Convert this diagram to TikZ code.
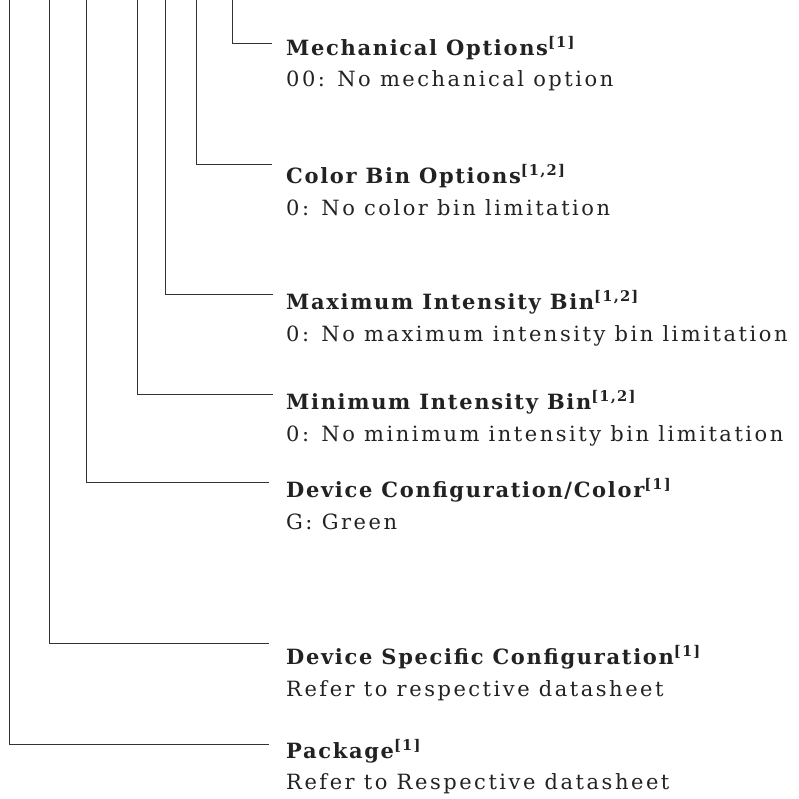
\documentclass[tikz,border=0pt]{standalone}
\usepackage{fontspec}
\setmainfont{DejaVu Serif}
\newfontfamily\ttlfont{DejaVu Serif}[LetterSpace=8]
\newfontfamily\dscfont{DejaVu Serif}[LetterSpace=12]
\definecolor{ink}{HTML}{222222}
\definecolor{wirec}{HTML}{333333}
\tikzset{
  ttl/.style={anchor=base west, inner sep=0pt, font=\ttlfont\fontsize{21}{24}\selectfont\bfseries, text=ink},
  dsc/.style={anchor=base west, inner sep=0pt, font=\dscfont\fontsize{21}{24}\selectfont, text=ink},
  wire/.style={draw=wirec, line width=0.9pt}
}
\begin{document}
\begin{tikzpicture}[x=1pt,y=-1pt]
\useasboundingbox (0,0) rectangle (799,798);
% titles and descriptions
\node[ttl] (t1) at (286,55) {Mechanical Options\textsuperscript{[1]}};
\node[dsc] (d1) at (286,86) {00: No mechanical option};
\node[ttl] (t2) at (286,183) {Color Bin Options\textsuperscript{[1,2]}};
\node[dsc] (d2) at (286,215) {0: No color bin limitation};
\node[ttl] (t3) at (286,309) {Maximum Intensity Bin\textsuperscript{[1,2]}};
\node[dsc] (d3) at (286,341) {0: No maximum intensity bin limitation};
\node[ttl] (t4) at (286,409) {Minimum Intensity Bin\textsuperscript{[1,2]}};
\node[dsc] (d4) at (286,441) {0: No minimum intensity bin limitation};
\node[ttl] (t5) at (286,497) {Device Configuration/Color\textsuperscript{[1]}};
\node[dsc] (d5) at (286,529) {G: Green};
\node[ttl] (t6) at (286,664) {Device Specific Configuration\textsuperscript{[1]}};
\node[dsc] (d6) at (286,696) {Refer to respective datasheet};
\node[ttl] (t7) at (286,758) {Package\textsuperscript{[1]}};
\node[dsc] (d7) at (286,789) {Refer to Respective datasheet};
% connector end points
\coordinate (s1) at (232,0);   \coordinate (e1) at (272,43);
\coordinate (s2) at (196,0);   \coordinate (e2) at (272,164);
\coordinate (s3) at (165,0);   \coordinate (e3) at (273,294);
\coordinate (s4) at (137,0);   \coordinate (e4) at (273,394);
\coordinate (s5) at (86,0);    \coordinate (e5) at (269,482);
\coordinate (s6) at (49,0);    \coordinate (e6) at (269,643);
\coordinate (s7) at (9,0);     \coordinate (e7) at (269,744);
\foreach \i in {1,...,7} { \draw[wire] (s\i) |- (e\i); }
\end{tikzpicture}
\end{document}
